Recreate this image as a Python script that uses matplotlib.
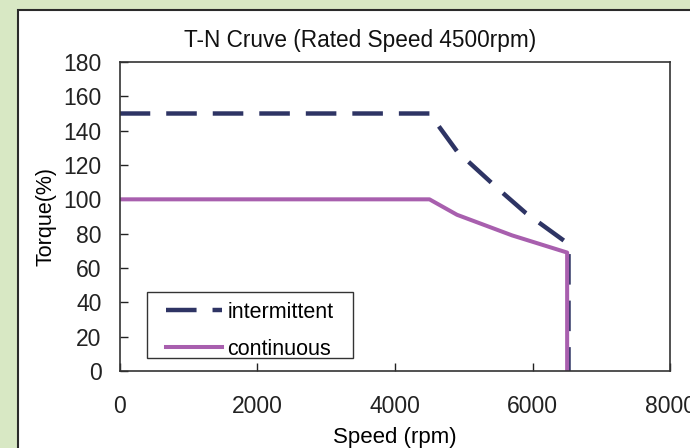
import matplotlib
matplotlib.use('Agg')
import matplotlib.pyplot as plt
from matplotlib.patches import Rectangle

plt.rcParams['font.family'] = ['Liberation Sans', 'DejaVu Sans']
plt.rcParams['lines.scale_dashes'] = False

# 數據
speed_int = [0, 4500, 4900, 5500, 5900, 6520, 6520]
torque_int = [150, 150, 128, 106, 92, 74, 0]

speed_cont = [0, 4500, 4900, 5700, 6500, 6500]
torque_cont = [100, 100, 91, 79, 69, 0]

x_ticks = [0, 2000, 4000, 6000, 8000]
y_ticks = list(range(0, 181, 20))

fig = plt.figure(figsize=(6.9, 4.48), dpi=100)
fig.patch.set_facecolor('#d8e8c4')

# 白色外框
panel = Rectangle((18 / 690, -0.05), 1.05, 1.05 - 10 / 448, transform=fig.transFigure,
                  facecolor='white', edgecolor='#2a2a2a', linewidth=1.5, clip_on=False,
                  zorder=-1)
fig.patches.append(panel)

ax = fig.add_axes([119.7 / 690, 77 / 448, (670.4 - 119.7) / 690, 309 / 448])
ax.set_facecolor('white')

ax.plot(speed_int, torque_int, color='#2e3464', linewidth=3.2, dashes=(22, 11.5),
        label='intermittent')
ax.plot(speed_cont, torque_cont, color='#a85fae', linewidth=2.9, label='continuous')

ax.set_xlim(0, 8000)
ax.set_ylim(0, 180)
ax.set_xticks(x_ticks)
ax.set_yticks(y_ticks)
ax.tick_params(direction='in', length=6, width=1, labelsize=16.5, colors='#222222')
ax.tick_params(axis='y', pad=13)
ax.tick_params(axis='x', pad=17)
for s in ax.spines.values():
    s.set_color('#333333')
    s.set_linewidth(1.2)

ax.set_xlabel('Speed (rpm)', fontsize=16, labelpad=7)
ax.set_ylabel('Torque(%)', fontsize=15.5, labelpad=5)
fig.text(360 / 690, 1 - 40 / 448, 'T-N Cruve (Rated Speed 4500rpm)', fontsize=16.3,
         ha='center', va='center', color='#111111')

# 圖例 (外框另外畫)
leg = ax.legend(loc='lower left', bbox_to_anchor=(0.084, 0.036), borderaxespad=0,
                borderpad=0, fontsize=15.5, frameon=False, handlelength=2.6,
                handletextpad=0.25, labelspacing=0.75)
ax.add_patch(Rectangle((0.0496, 0.042), 0.374, 0.2136, transform=ax.transAxes,
                       facecolor='none', edgecolor='#333333', linewidth=1.0, zorder=5))

plt.savefig('out.png', dpi=100, facecolor=fig.get_facecolor())
